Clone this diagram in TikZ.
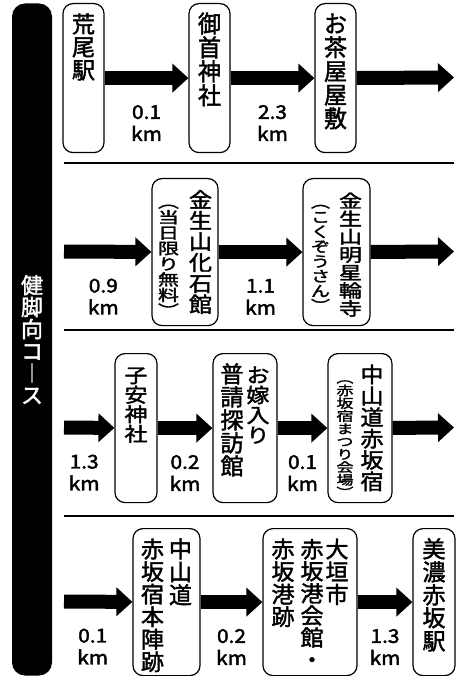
\documentclass[tikz,border=0pt]{standalone}
\usepackage{fontspec}
\usepackage{graphicx}
\setmainfont{Noto Sans CJK JP}[FakeBold=1.8]
\newfontfamily\kmfont{Noto Sans CJK JP}[FakeBold=2.2, FakeStretch=1.1]
\usetikzlibrary{arrows.meta,positioning}

% one column of vertical text: #1 font size, #2 vertical squeeze, #3 characters
\def\tateloop#1{\ifx#1\relax\else\hbox to 1em{\hss#1\hss}\expandafter\tateloop\fi}
\newcommand{\tate}[3]{\scalebox{1}[#2]{\fontsize{#1}{#1}\selectfont\vtop{\baselineskip=#1pt\lineskiplimit=-100pt\tateloop#3\relax}}}

\tikzset{
  stop/.style={draw, line width=1.2pt, rounded corners=10pt, inner sep=0pt,
    anchor=north, text height=29pt},
  road/.style={line width=14pt, -{Triangle[width=28pt,length=16pt]}},
  dist/.style={font=\kmfont\fontsize{19}{22}\selectfont, align=center, anchor=north,
    inner sep=0pt, yshift=-20pt},
  course/.style={fill=black, text=white, rounded corners=13pt, inner sep=0pt,
    minimum width=40pt, minimum height=672pt},
  rule/.style={line width=1.3pt}
}

\begin{document}
\begin{tikzpicture}[x=1pt, y=-1pt]
  \useasboundingbox (0,0) rectangle (466,676);

  % course title
  \node[course] (kenkyaku) at (32,339.5) {\tate{22}{1}{健脚向コ︱ス}};

  % row 1
  \node[stop, minimum width=41pt, text depth=120pt] (arao) at (83.5,3) {\tate{23}{1}{荒尾駅}};
  \node[stop, minimum width=41pt, text depth=120pt] (gosyu) at (209.5,3) {\tate{23}{1.04}{御首神社}};
  \node[stop, minimum width=41pt, text depth=120pt] (ochaya) at (335.5,3) {\tate{23}{1.03}{お茶屋屋敷}};
  \coordinate (out1) at (454,77.5);

  \draw[road] (arao) -- node[dist] {0.1\\km} (gosyu);
  \draw[road] (gosyu) -- node[dist] {2.3\\km} (ochaya);
  \draw[road] (ochaya) -- (out1);

  \draw[rule] (64,163) -- (454,163);

  % row 2
  \coordinate (in2) at (64,251.5);
  \node[stop, minimum width=66pt, text depth=118pt] (kaseki) at (185,178)
    {\tate{21}{0.74}{︵当日限り無料︶}\hspace{10pt}\tate{23}{0.91}{金生山化石館}};
  \node[stop, minimum width=67pt, text depth=118pt] (myojo) at (336.5,178)
    {\tate{19}{0.78}{︵こくぞうさん︶}\hspace{9pt}\tate{23}{0.78}{金生山明星輪寺}};
  \coordinate (out2) at (454,251.5);

  \draw[road] (in2) -- node[dist, pos=0.45] {0.9\\km} (kaseki);
  \draw[road] (kaseki) -- node[dist] {1.1\\km} (myojo);
  \draw[road] (myojo) -- (out2);

  \draw[rule] (64,330) -- (454,330);

  % row 3
  \coordinate (in3) at (64,427.5);
  \node[stop, minimum width=42pt, text depth=120pt] (koyasu) at (136,353) {\tate{23}{0.85}{子安神社}};
  \node[stop, minimum width=64pt, text depth=120pt] (oyome) at (245,353)
    {\tate{23}{1}{普請探訪館}\hspace{3pt}\tate{23}{0.87}{お嫁入り}};
  \node[stop, minimum width=64pt, text depth=120pt] (akasaka) at (360,353)
    {\tate{17}{0.75}{︵赤坂宿まつり会場︶}\hspace{7pt}\tate{23}{0.93}{中山道赤坂宿}};
  \coordinate (out3) at (454,427.5);

  \draw[road] (in3) -- node[dist, pos=0.4] {1.3\\km} (koyasu);
  \draw[road] (koyasu) -- node[dist] {0.2\\km} (oyome);
  \draw[road] (oyome) -- node[dist] {0.1\\km} (akasaka);
  \draw[road] (akasaka) -- (out3);

  \draw[rule] (64,516) -- (454,516);

  % row 4
  \coordinate (in4) at (64,601.5);
  \node[stop, minimum width=67pt, text depth=118pt] (honjin) at (166.5,528)
    {\tate{23}{0.98}{赤坂宿本陣跡}\hspace{5pt}\tate{23}{1}{中山道}};
  \node[stop, minimum width=94pt, text depth=118pt] (minato) at (310,528)
    {\tate{23}{0.98}{赤坂港跡}\hspace{6pt}\tate{23}{0.96}{赤坂港会館・}\hspace{2pt}\tate{23}{0.99}{大垣市}};
  \node[stop, minimum width=42pt, text depth=118pt] (mino) at (434,528) {\tate{23}{1}{美濃赤坂駅}};

  \draw[road] (in4) -- node[dist, pos=0.42] {0.1\\km} (honjin);
  \draw[road] (honjin) -- node[dist] {0.2\\km} (minato);
  \draw[road] (minato) -- node[dist] {1.3\\km} (mino);
\end{tikzpicture}
\end{document}
